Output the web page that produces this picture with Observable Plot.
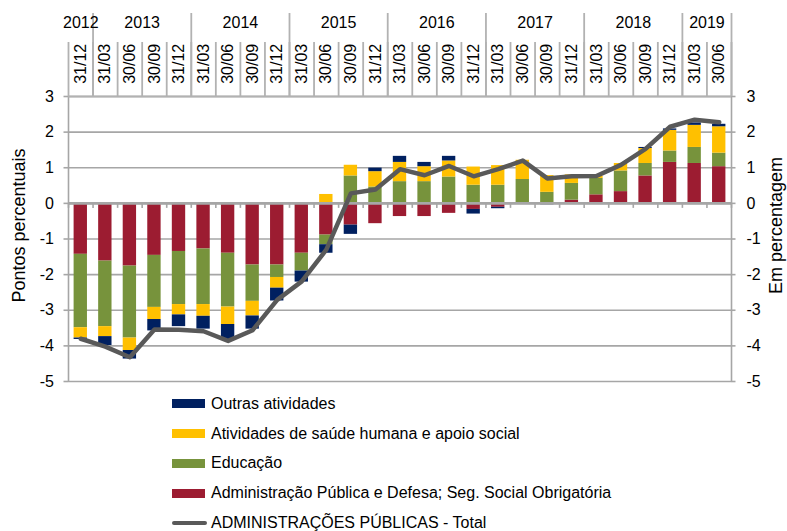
<!DOCTYPE html>
<html><head><meta charset="utf-8">
<script src="https://cdn.jsdelivr.net/npm/d3@7"></script>
<script src="https://cdn.jsdelivr.net/npm/@observablehq/plot@0.6"></script>
<style>
body{margin:0;background:#fff;font-family:"Liberation Sans",Arial,sans-serif;}
#wrap{position:relative;width:787px;height:531px;overflow:hidden;background:#fff}
#legend{position:absolute;left:172px;top:389px;font-size:16px;color:#000}
.row{display:flex;align-items:center;height:29.8px;white-space:nowrap}
.sw{width:33px;height:9px;margin-right:6px}
.ln{width:35px;height:4px;border-radius:2px;margin-right:4px;background:#595959}
</style></head><body><div id="wrap"><div id="chart"></div><div id="legend"></div></div>
<script>
const quarters = ["31/12","31/03","30/06","30/09","31/12","31/03","30/06","30/09","31/12","31/03","30/06","30/09","31/12","31/03","30/06","30/09","31/12","31/03","30/06","30/09","31/12","31/03","30/06","30/09","31/12","31/03","30/06"];
const years = ["2012","2013","2014","2015","2016","2017","2018","2019"];
const yearQuarters = [1,4,4,4,4,4,4,2];
const yTicks = [-5,-4,-3,-2,-1,0,1,2,3];

const seriesNames = ["Administração Pública e Defesa; Seg. Social Obrigatória","Educação","Atividades de saúde humana e apoio social","Outras atividades"];
const seriesColors = ["#9C1C31","#77933C","#FFC000","#002060"];
const lineName = "ADMINISTRAÇÕES PÚBLICAS - Total";

const adminPublica = [-1.43,-1.62,-1.76,-1.46,-1.35,-1.28,-1.40,-1.73,-1.73,-1.40,-0.89,-0.61,-0.57,-0.37,-0.37,-0.28,-0.17,-0.11,0,0,0.09,0.24,0.33,0.77,1.15,1.12,1.03];
const educacao = [-2.06,-1.84,-2.02,-1.46,-1.49,-1.56,-1.51,-1.02,-0.35,-0.50,-0.27,0.77,0.46,0.61,0.61,0.74,0.51,0.51,0.67,0.31,0.47,0.46,0.58,0.35,0.32,0.45,0.38];
const saude = [-0.29,-0.28,-0.35,-0.34,-0.29,-0.33,-0.49,-0.41,-0.30,0,0.25,0.30,0.43,0.54,0.42,0.45,0.51,0.55,0.54,0.47,0.24,0.06,0.21,0.42,0.58,0.62,0.74];
const outras = [-0.04,-0.25,-0.24,-0.32,-0.33,-0.36,-0.44,-0.37,-0.36,-0.31,-0.24,-0.26,0.10,0.17,0.12,0.13,-0.13,-0.04,0,-0.04,-0.03,-0.03,0,0.03,0.04,0.07,0.07];
const total = [-3.80,-4.02,-4.32,-3.54,-3.55,-3.59,-3.86,-3.56,-2.71,-2.19,-1.30,0.28,0.39,0.96,0.79,1.05,0.76,0.96,1.20,0.70,0.76,0.77,1.08,1.53,2.15,2.35,2.28];

const seriesValues = [adminPublica, educacao, saude, outras];
const rows = [];
seriesValues.forEach((vals, s) => vals.forEach((v, i) => rows.push({i, s: seriesNames[s], v})));

const n = quarters.length;
const yearStarts = [];
let acc = 0;
yearQuarters.forEach(c => { yearStarts.push(acc); acc += c; });
const yearRows = years.map((y, k) => ({y, c: yearStarts[k] + yearQuarters[k] / 2}));
const yearBounds = yearStarts.slice(1).concat([n]);

const W = 787, H = 390, mT = 96, mB = 9, mL = 68, mR = 56;
const frameH = H - mT - mB;
const gridColor = "#a6a6a6";
const sepColor = "#b2b2b2";

const chart = Plot.plot({
  width: W, height: H,
  marginTop: mT, marginBottom: mB, marginLeft: mL, marginRight: mR,
  style: {fontFamily: "'Liberation Sans', Arial, sans-serif", fontSize: "16px", color: "#000", background: "#fff", overflow: "visible"},
  x: {domain: [0, n], axis: null},
  y: {domain: [-5, 3], axis: null},
  color: {domain: seriesNames, range: seriesColors},
  marks: [
    Plot.ruleY(yTicks, {stroke: gridColor, strokeWidth: 1.6}),
    Plot.rectY(rows, Plot.stackY({x: "i", x1: "i", x2: d => d.i + 1, y: "v", fill: "s", insetLeft: 5.6, insetRight: 5.6})),
    Plot.ruleY([0], {stroke: gridColor, strokeWidth: 2.6}),
    Plot.ruleX(d3.range(n + 1), {y1: 0, y2: 0, insetBottom: -5, stroke: gridColor, strokeWidth: 1.6}),
    Plot.ruleX([0, n], {stroke: gridColor, strokeWidth: 1.6}),
    Plot.ruleY(yTicks, {x1: 0, x2: 0, insetLeft: -4.5, stroke: gridColor, strokeWidth: 1.6}),
    Plot.ruleY(yTicks, {x1: n, x2: n, insetRight: -4.5, stroke: gridColor, strokeWidth: 1.6}),
    Plot.text(yTicks, {y: d => d, text: d => String(d), frameAnchor: "left", dx: -14.5, textAnchor: "end", lineAnchor: "middle", fontSize: 16}),
    Plot.text(yTicks, {y: d => d, text: d => String(d), frameAnchor: "right", dx: 15, textAnchor: "start", lineAnchor: "middle", fontSize: 16}),
    Plot.line(total, {x: (d, i) => i + 0.5, y: d => d, stroke: "#595959", strokeWidth: 4.5, strokeLinejoin: "round", strokeLinecap: "round"}),
    Plot.ruleX(d3.range(n + 1), {insetTop: -54, insetBottom: frameH, stroke: sepColor, strokeWidth: 1.8}),
    Plot.ruleX(yearBounds, {insetTop: -83, insetBottom: frameH, stroke: sepColor, strokeWidth: 1.8}),
    Plot.ruleY([3], {stroke: sepColor, strokeWidth: 1.8}),
    Plot.text(quarters, {x: (d, i) => i + 0.5, frameAnchor: "top", dy: -32.7, rotate: -90, textAnchor: "middle", lineAnchor: "middle", fontSize: 16}),
    Plot.text(yearRows, {x: "c", text: "y", frameAnchor: "top", dy: -73.5, textAnchor: "middle", lineAnchor: "middle", fontSize: 16}),
    Plot.text(["Pontos percentuais"], {frameAnchor: "left", dx: -49.5, dy: -13.5, rotate: -90, textAnchor: "middle", lineAnchor: "middle", fontSize: 18}),
    Plot.text(["Em percentagem"], {frameAnchor: "right", dx: 45, dy: -13.5, rotate: -90, textAnchor: "middle", lineAnchor: "middle", fontSize: 18})
  ]
});
document.getElementById("chart").appendChild(chart);

const legend = document.getElementById("legend");
const legendOrder = [3, 2, 1, 0];
legendOrder.forEach(k => {
  const r = document.createElement("div"); r.className = "row";
  const s = document.createElement("div"); s.className = "sw"; s.style.background = seriesColors[k];
  const t = document.createElement("span"); t.textContent = seriesNames[k];
  r.appendChild(s); r.appendChild(t); legend.appendChild(r);
});
{
  const r = document.createElement("div"); r.className = "row";
  const s = document.createElement("div"); s.className = "ln";
  const t = document.createElement("span"); t.textContent = lineName;
  r.appendChild(s); r.appendChild(t); legend.appendChild(r);
}
</script>
</body></html>
